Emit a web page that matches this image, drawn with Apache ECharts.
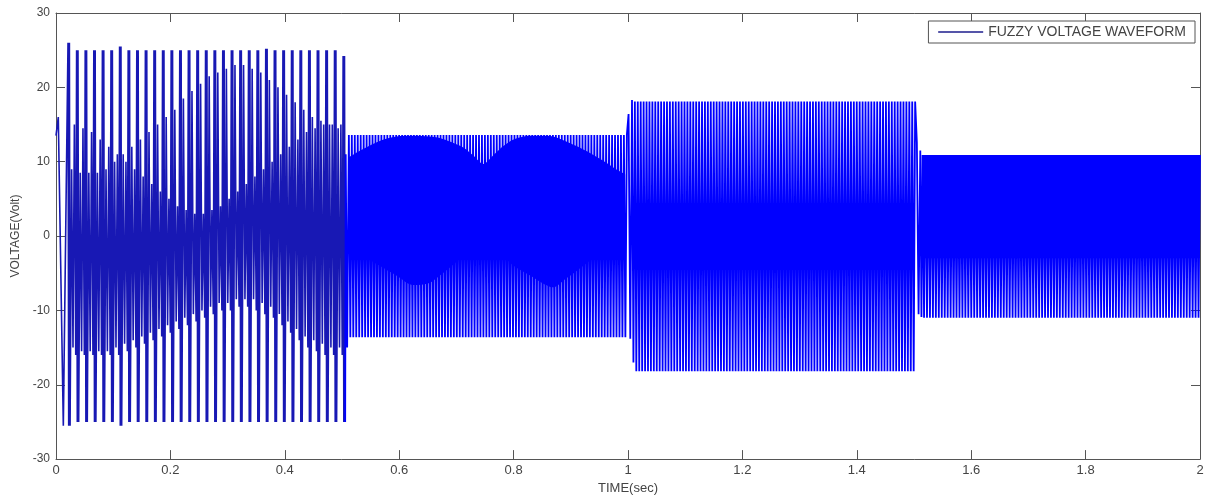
<!DOCTYPE html>
<html>
<head>
<meta charset="utf-8">
<style>
    html, body { margin: 0; padding: 0; background: #fff; }
    #main { width: 1207px; height: 500px; }
</style>
<script src="https://cdn.jsdelivr.net/npm/echarts@6.0.0/dist/echarts.min.js"></script>
</head>
<body>
<div id="main"></div>
<script type="text/javascript">
    // segment 1 (0 - 0.5 s): one spike per cycle, values
    var seg1Lead = [[0, 13.5], [0.004, 16], [0.0128, -25.5]];
    var seg1Start = 0.021;
    var seg1Period = 0.01503;
    var seg1Peak = [26, 25, 25, 25, 25, 25, 25.5, 25, 25, 25, 25, 25, 25, 25, 25, 25, 25,
                    25, 25, 25, 25, 25, 25, 25.2, 25, 25, 25, 25, 25, 25, 25, 25, 24.2];
    var seg1Trough = [-25.5, -25, -25, -25, -25, -25, -25.5, -25, -25, -25, -25, -25, -25, -25, -25, -25, -25,
                      -25, -25, -25, -25, -25, -25, -25, -25, -25, -25, -25, -25, -25, -25, -25, -25];
    // inner strokes between the spikes (two crossing families)
    var seg1HiA = [9, 8.5, 8.5, 8.5, 9, 10, 11, 12, 13, 14, 15, 16, 17, 18.5, 19.5, 20.5, 21.5,
                   22, 22.5, 23, 23, 22.5, 22, 21, 20, 19, 18, 17, 16, 15.5, 15, 14.5, 14];
    var seg1LoA = [-15, -15.5, -15.5, -15.5, -15.5, -15, -14.5, -14, -13.5, -13, -12.5, -12, -11.5, -11, -10.5, -10, -9.5,
                   -9, -9, -8.5, -8.5, -8.5, -9, -9.5, -10.5, -11.5, -12.5, -13.5, -14, -14.5, -15, -15, -15];
    var seg1HiB = [15, 14.5, 14, 13, 12, 11, 10, 9, 8, 7, 6, 5, 4, 3.5, 3, 3, 3.5,
                   4, 5, 6, 7, 8, 9, 10, 11, 12, 13, 14, 14.5, 15, 15, 15, 15];
    var seg1LoB = [-16, -16, -16, -16, -16, -16, -15.5, -15, -14.5, -14, -13.5, -13, -12.5, -12, -11.5, -11, -10.5,
                   -10, -10, -9.5, -9.5, -10, -10.5, -11, -12, -13, -14, -15, -15.5, -16, -16, -16, -16];

    // segment 2 (0.5 - 1.0 s)
    var seg2Range = [0.512, 0.998];
    var seg2Cycles = 94;
    var seg2Peak = 13.6;
    var seg2Trough = -13.6;
    var seg2BandT  = [0.512, 0.537, 0.566, 0.595, 0.625, 0.653, 0.671, 0.692, 0.712, 0.73, 0.747, 0.765,
                      0.782, 0.80, 0.829, 0.85, 0.869, 0.89, 0.91, 0.935, 0.957, 0.975, 0.995];
    var seg2BandHi = [10.6, 11.7, 12.8, 13.4, 13.5, 13.4, 13.2, 12.6, 11.9, 10.8, 9.7, 10.9,
                      12.1, 13, 13.5, 13.5, 13.4, 12.8, 12.1, 11.1, 10.1, 9.2, 8.3];
    var seg2BandLo = [-1.3, -2.6, -4.0, -5.3, -6.6, -6.3, -5.3, -4.0, -2.6, -1.4, -0.4, -1.4,
                      -2.6, -4.0, -5.3, -6.3, -6.9, -5.8, -4.7, -3.2, -1.8, -1.0, -0.4];

    // segment 3 (1.0 - 1.5 s)
    var seg3Range = [1.012, 1.502];
    var seg3Cycles = 96;
    var seg3Peak = 18.1;
    var seg3Trough = -18.2;

    // segment 4 (1.5 - 2.0 s)
    var seg4Range = [1.515, 2.0];
    var seg4Cycles = 94;
    var seg4Peak = 10.9;
    var seg4Trough = -11;
    var seg4BandT  = [1.515, 2.0];
    var seg4BandHi = [10.9, 10.9];
    var seg4BandLo = [-3, -3];

    // switching instants between the segments
    var join12 = [[0.5065, 11], [0.509, -15]];
    var join23 = [[1.001, 16.4], [1.004, -13.8], [1.007, 18.3], [1.0095, -17]];
    var join34 = [[1.505, 12.6], [1.508, -10.5], [1.511, 11.5], [1.513, -10.9]];

    function zigzag(range, cycles, hi, lo) {
        var pts = [];
        var step = (range[1] - range[0]) / (2 * cycles);
        for (var i = 0; i <= 2 * cycles; i++) {
            pts.push([range[0] + i * step, i % 2 === 0 ? hi : lo]);
        }
        return pts;
    }

    function pairs(xs, ys) {
        return xs.map(function (x, i) { return [x, ys[i]]; });
    }

    // each spike of segment 1 is drawn as a double stroke, then the inner strokes
    var wave1 = seg1Lead.slice();
    for (var k = 0; k < seg1Peak.length; k++) {
        var t = seg1Start + k * seg1Period;
        wave1.push([t, seg1Peak[k]]);
        wave1.push([t + 0.08 * seg1Period, seg1Trough[k]]);
        wave1.push([t + 0.16 * seg1Period, seg1Peak[k]]);
        wave1.push([t + 0.24 * seg1Period, seg1Trough[k]]);
        if (k < seg1Peak.length - 1) {
            wave1.push([t + 0.42 * seg1Period, seg1HiA[k]]);
            wave1.push([t + 0.58 * seg1Period, seg1LoA[k]]);
            wave1.push([t + 0.74 * seg1Period, seg1HiB[k]]);
            wave1.push([t + 0.9 * seg1Period, seg1LoB[k]]);
        }
    }
    var lastPt = wave1[wave1.length - 1];
    var wave = [lastPt].concat(join12, zigzag(seg2Range, seg2Cycles, seg2Peak, seg2Trough),
        join23, zigzag(seg3Range, seg3Cycles, seg3Peak, seg3Trough),
        join34, zigzag(seg4Range, seg4Cycles, seg4Peak, seg4Trough));

    var blue = '#0000ff';
    var darkBlue = '#1818b4';
    var axisColor = '#555';
    var labelColor = '#444';

    function band(data) {
        return {
            type: 'line',
            data: data,
            smooth: 0.3,
            symbol: 'none',
            silent: true,
            lineStyle: { width: 0 },
            areaStyle: { color: blue, opacity: 1 },
            animation: false
        };
    }

    function frameAxis(extra) {
        var a = {
            type: 'value',
            axisLine: { show: true, onZero: false, lineStyle: { color: axisColor } },
            axisTick: { show: true, inside: true, length: 9, lineStyle: { color: axisColor } },
            splitLine: { show: false }
        };
        for (var key in extra) { a[key] = extra[key]; }
        return a;
    }

    var myChart = echarts.init(document.getElementById('main'));

    var option = {
        backgroundColor: '#fff',
        animation: false,
        textStyle: { fontFamily: 'Liberation Sans, Arial, sans-serif' },
        grid: { left: 56, right: 7, top: 13, bottom: 40 },
        legend: {
            data: ['FUZZY VOLTAGE WAVEFORM'],
            right: 12,
            top: 21,
            padding: [4, 9, 4, 9],
            itemWidth: 45,
            itemHeight: 14,
            borderColor: axisColor,
            borderWidth: 1,
            borderRadius: 0,
            backgroundColor: '#fff',
            itemStyle: { color: 'rgba(0,0,0,0)', borderWidth: 0 },
            lineStyle: { color: '#1c1c8c', width: 1.5 },
            textStyle: { fontSize: 14, color: '#444' }
        },
        xAxis: [
            frameAxis({
                min: 0, max: 2, interval: 0.2,
                name: 'TIME(sec)',
                nameLocation: 'middle',
                nameGap: 22,
                nameTextStyle: { fontSize: 13, color: labelColor },
                axisLabel: { fontSize: 13, color: labelColor, margin: 5 }
            }),
            frameAxis({
                position: 'top',
                min: 0, max: 2, interval: 0.2,
                axisLabel: { show: false }
            })
        ],
        yAxis: [
            frameAxis({
                min: -30, max: 30, interval: 10,
                name: 'VOLTAGE(Volt)',
                nameLocation: 'middle',
                nameGap: 34,
                nameTextStyle: { fontSize: 12, color: labelColor },
                axisLabel: { fontSize: 12, color: labelColor, margin: 6 }
            }),
            frameAxis({
                position: 'right',
                min: -30, max: 30, interval: 10,
                axisLabel: { show: false }
            })
        ],
        series: [
            band(pairs(seg2BandT, seg2BandHi)),
            band(pairs(seg2BandT, seg2BandLo)),
            band(pairs(seg4BandT, seg4BandHi)),
            band(pairs(seg4BandT, seg4BandLo)),
            {
                name: 'FUZZY VOLTAGE WAVEFORM',
                type: 'line',
                data: wave1,
                symbol: 'none',
                sampling: null,
                lineStyle: { color: darkBlue, width: 1.6 },
                itemStyle: { color: blue },
                animation: false
            },
            {
                name: 'FUZZY VOLTAGE WAVEFORM',
                type: 'line',
                data: wave,
                symbol: 'none',
                sampling: null,
                lineStyle: { color: blue, width: 1.8 },
                itemStyle: { color: blue },
                animation: false
            }
        ]
    };

    myChart.setOption(option);
</script>
</body>
</html>
